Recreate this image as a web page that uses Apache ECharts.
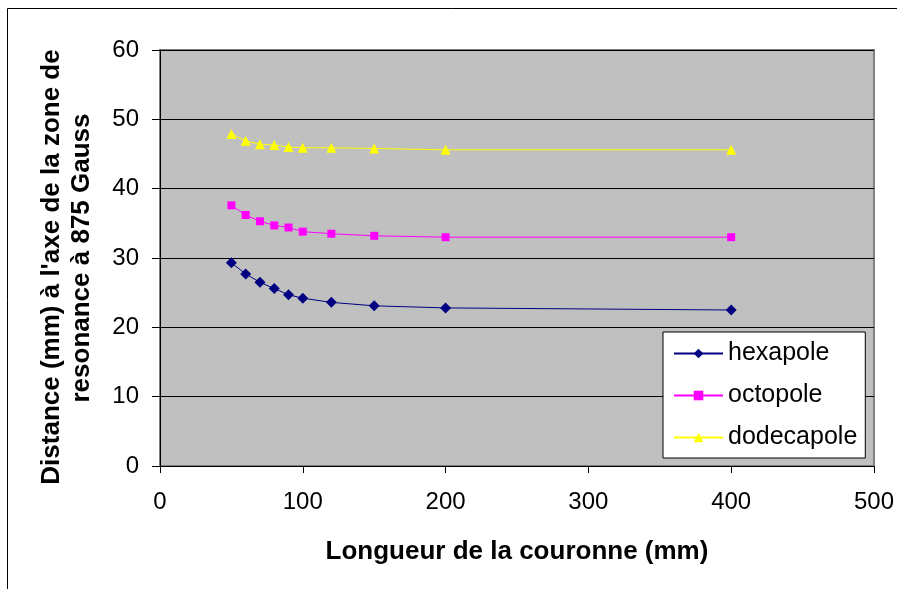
<!DOCTYPE html>
<html>
<head>
<meta charset="utf-8">
<script src="https://cdn.jsdelivr.net/npm/echarts@6/dist/echarts.min.js"></script>
<style>
html,body{margin:0;padding:0;background:#fff;}
#c{width:897px;height:589px;}
</style>
</head>
<body>
<div id="c"></div>
<script>
const lengths = [50, 60, 70, 80, 90, 100, 120, 150, 200, 400];
const hexapole = [29.3, 27.7, 26.5, 25.6, 24.7, 24.2, 23.6, 23.1, 22.8, 22.5];
const octopole = [37.6, 36.2, 35.3, 34.7, 34.4, 33.8, 33.5, 33.2, 33.0, 33.0];
const dodecapole = [47.9, 46.9, 46.4, 46.3, 46.0, 45.9, 45.9, 45.8, 45.6, 45.6];
const seriesNames = ['hexapole', 'octopole', 'dodecapole'];
const yTitleLines = ["Distance (mm) à l'axe de la zone de", 'resonance à 875 Gauss'];

const font = 'Arial, "Liberation Sans", sans-serif';
const pair = (ys) => lengths.map((x, i) => [x, ys[i]]);
const titleStyle = {fontFamily: font, fontSize: 26, fontWeight: 'bold', color: '#000', lineHeight: 30};

const chart = echarts.init(document.getElementById('c'), null, {renderer: 'canvas'});
chart.setOption({
  animation: false,
  backgroundColor: '#ffffff',
  graphic: [{
    type: 'rect',
    shape: {x: 7.5, y: 8.5, width: 1000, height: 1000},
    style: {fill: 'none', stroke: '#000', lineWidth: 1},
    z: -1
  }],
  grid: {
    left: 160, top: 50, right: 22, bottom: 123,
    show: true, backgroundColor: '#C0C0C0', borderColor: '#808080', borderWidth: 2
  },
  legend: {
    orient: 'vertical',
    left: 663, top: 332,
    backgroundColor: '#ffffff', borderColor: '#000', borderWidth: 1,
    padding: [9, 8, 8, 10],
    itemGap: 17, itemWidth: 49, itemHeight: 12,
    textStyle: {fontFamily: font, fontSize: 25, color: '#000'},
    data: seriesNames
  },
  xAxis: {
    type: 'value', min: 0, max: 500, interval: 100,
    name: 'Longueur de la couronne (mm)', nameLocation: 'middle', nameGap: 71,
    nameTextStyle: titleStyle,
    axisLine: {show: true, lineStyle: {color: '#000', width: 1}},
    axisTick: {show: true, length: 7, lineStyle: {color: '#000'}},
    axisLabel: {fontFamily: font, fontSize: 24, color: '#000', margin: 24},
    splitLine: {show: false}
  },
  yAxis: {
    type: 'value', min: 0, max: 60, interval: 10,
    name: '{a|' + yTitleLines[0] + '}\n{b|' + yTitleLines[1] + '}',
    nameLocation: 'middle', nameGap: 63, nameRotate: 90,
    nameTextStyle: Object.assign({}, titleStyle, {
      align: 'center',
      rich: {
        a: Object.assign({}, titleStyle, {padding: [0, 18, 0, 0]}),
        b: Object.assign({}, titleStyle)
      }
    }),
    axisLine: {show: true, lineStyle: {color: '#000', width: 1}},
    axisTick: {show: true, length: 8, lineStyle: {color: '#000'}},
    axisLabel: {fontFamily: font, fontSize: 24, color: '#000', margin: 21},
    splitLine: {show: true, lineStyle: {color: '#000', width: 1}}
  },
  series: [
    {name: 'hexapole', type: 'line', data: pair(hexapole), symbol: 'diamond', symbolSize: 11,
     itemStyle: {color: '#000080'}, lineStyle: {color: '#000080', width: 1}},
    {name: 'octopole', type: 'line', data: pair(octopole), symbol: 'rect', symbolSize: 8,
     itemStyle: {color: '#FF00FF'}, lineStyle: {color: '#FF00FF', width: 1}},
    {name: 'dodecapole', type: 'line', data: pair(dodecapole), symbol: 'triangle', symbolSize: 10,
     itemStyle: {color: '#FFFF00'}, lineStyle: {color: '#FFFF00', width: 1}}
  ]
});
</script>
</body>
</html>
